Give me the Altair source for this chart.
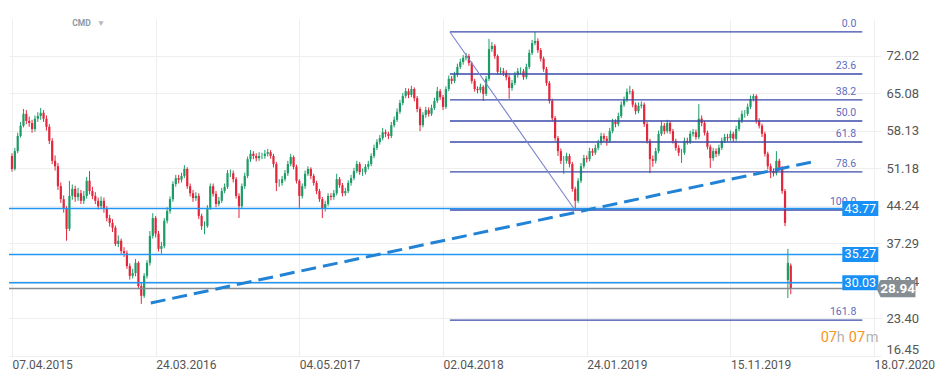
import altair as alt
import pandas as pd

# ---------------- data ----------------
date_labels = ["07.04.2015", "24.03.2016", "04.05.2017", "02.04.2018",
               "24.01.2019", "15.11.2019", "18.07.2020"]
date_ticks = [0, 50, 100, 150, 200, 250, 300]          # bar index of each date
price_ticks = [16.45, 23.40, 30.34, 37.29, 44.24, 51.18, 58.13, 65.08, 72.02]

first_open = 53.5
closes = [
    51.1, 54.4, 57.2, 59.1, 61.3, 60.0, 59.6, 58.5, 60.4, 60.9,
    61.5, 60.4, 58.9, 56.3, 52.6, 51.6, 47.9, 45.5, 43.7, 40.0,
    46.1, 47.4, 45.9, 46.6, 45.2, 46.1, 48.9, 47.0, 46.1, 45.2,
    44.2, 45.2, 43.7, 42.0, 41.1, 40.2, 37.2, 37.8, 35.9, 35.5,
    33.1, 31.3, 31.8, 33.7, 29.4, 27.6, 31.3, 33.7, 38.7, 42.0,
    39.1, 36.3, 36.8, 41.5, 43.3, 45.5, 48.3, 49.4, 49.1, 49.8,
    51.1, 47.9, 46.6, 45.7, 46.1, 42.4, 40.5, 40.5, 43.9, 47.9,
    46.5, 44.6, 45.2, 47.0, 47.8, 50.3, 50.3, 49.2, 46.1, 44.2,
    47.9, 49.8, 52.9, 53.9, 53.5, 53.1, 53.5, 53.5, 53.9, 54.2,
    53.5, 52.0, 48.5, 48.5, 49.2, 50.3, 52.0, 53.3, 51.5, 48.9,
    46.1, 47.9, 50.2, 51.1, 49.8, 48.5, 47.0, 45.5, 43.7, 44.6,
    46.1, 45.9, 46.6, 49.2, 48.1, 46.6, 47.0, 48.5, 49.4, 50.7,
    52.0, 50.5, 50.5, 51.5, 52.0, 53.5, 55.0, 56.1, 56.8, 57.9,
    57.6, 57.2, 59.2, 60.2, 61.7, 63.3, 64.6, 65.5, 64.8, 65.9,
    64.2, 62.2, 59.2, 61.1, 62.0, 61.3, 62.4, 63.7, 65.5, 64.4,
    62.6, 65.9, 67.8, 67.4, 68.5, 70.0, 70.9, 71.7, 72.0, 70.7,
    67.4, 65.9, 65.7, 66.3, 65.0, 67.8, 73.3, 73.9, 72.0, 69.1,
    69.2, 68.9, 68.1, 66.1, 67.0, 68.5, 69.2, 69.2, 68.1, 70.0,
    72.6, 74.4, 74.8, 73.1, 71.5, 69.6, 67.0, 63.7, 60.5, 56.8,
    54.4, 52.6, 52.6, 53.5, 52.0, 47.4, 45.2, 48.9, 51.6, 53.1,
    52.9, 54.4, 54.1, 55.0, 55.9, 57.2, 56.7, 56.3, 58.1, 59.8,
    59.4, 60.9, 63.0, 63.9, 65.4, 65.5, 63.0, 61.8, 62.8, 63.0,
    59.4, 56.3, 52.9, 52.6, 54.4, 57.6, 59.1, 58.1, 59.6, 58.1,
    56.3, 55.0, 54.1, 54.1, 56.3, 56.1, 57.6, 57.9, 57.0, 60.4,
    59.6, 57.8, 55.2, 53.1, 54.4, 53.9, 55.0, 56.3, 57.0, 56.8,
    57.6, 56.7, 58.5, 60.0, 61.3, 61.3, 62.6, 64.1, 64.6, 60.0,
    59.1, 57.6, 53.9, 51.6, 50.7, 50.3, 52.6, 51.3, 47.0, 41.1,
    33.7, 28.94,
]
highs = [
    54.0, 55.0, 57.8, 59.8, 62.2, 62.0, 60.8, 60.2, 61.0, 61.6,
    62.4, 62.0, 61.0, 59.4, 56.8, 53.6, 52.2, 48.6, 46.2, 44.2,
    48.9, 48.2, 48.0, 47.6, 47.2, 47.0, 49.6, 50.7, 47.8, 46.8,
    45.8, 46.0, 45.8, 44.2, 42.6, 41.8, 40.6, 38.8, 38.2, 36.6,
    36.0, 33.6, 32.6, 34.4, 34.0, 30.0, 31.8, 34.2, 39.6, 42.9,
    42.4, 39.6, 37.6, 42.0, 44.0, 46.0, 48.8, 50.0, 50.0, 50.4,
    51.8, 51.4, 48.4, 47.2, 46.8, 46.6, 42.8, 41.4, 44.4, 48.4,
    48.4, 47.0, 45.9, 47.6, 48.4, 50.9, 51.0, 50.8, 49.6, 46.6,
    48.4, 50.4, 53.4, 54.6, 54.4, 54.0, 54.2, 54.1, 54.6, 54.8,
    54.6, 53.9, 52.4, 49.2, 49.8, 50.9, 52.6, 53.9, 53.6, 51.9,
    49.2, 48.4, 50.8, 51.6, 51.4, 50.2, 48.9, 47.4, 45.9, 45.2,
    46.6, 46.6, 47.2, 50.2, 49.6, 48.5, 47.6, 49.0, 50.0, 51.3,
    52.6, 52.4, 51.2, 52.0, 52.6, 54.0, 55.6, 56.6, 57.4, 58.7,
    58.4, 58.0, 59.8, 60.8, 62.3, 63.9, 65.2, 66.1, 66.0, 66.5,
    66.2, 64.6, 62.6, 61.6, 62.6, 62.5, 63.0, 64.3, 66.3, 65.9,
    64.8, 66.4, 68.4, 68.3, 69.1, 70.6, 71.5, 72.2, 72.6, 72.4,
    71.0, 67.8, 66.4, 66.9, 66.6, 68.3, 75.2, 74.6, 74.2, 72.3,
    69.9, 69.8, 69.4, 68.5, 67.6, 69.1, 69.8, 69.9, 69.6, 70.6,
    73.2, 75.0, 76.5, 75.3, 73.5, 71.9, 70.0, 67.4, 64.1, 60.9,
    57.2, 54.9, 53.5, 54.1, 53.9, 52.4, 47.8, 49.4, 52.2, 53.7,
    53.6, 55.0, 54.9, 55.6, 56.5, 57.8, 57.7, 57.2, 58.7, 60.4,
    60.3, 61.5, 63.6, 64.5, 66.0, 66.5, 65.9, 63.4, 63.4, 63.6,
    63.4, 59.8, 56.7, 53.6, 55.0, 58.2, 60.0, 59.6, 60.2, 60.0,
    58.5, 56.7, 55.5, 54.8, 56.9, 56.9, 58.2, 58.5, 58.4, 63.1,
    61.0, 60.0, 58.2, 55.6, 55.0, 54.9, 55.6, 56.9, 57.6, 57.6,
    58.2, 58.0, 59.1, 60.6, 61.9, 62.0, 63.2, 64.7, 65.0, 64.9,
    60.5, 59.5, 58.0, 54.3, 52.1, 51.2, 54.4, 53.0, 51.6, 47.4,
    36.3, 33.6,
]
lows = [
    50.6, 50.8, 54.0, 56.9, 58.8, 59.4, 58.9, 57.8, 58.0, 59.8,
    60.2, 59.8, 58.2, 55.7, 52.0, 50.8, 47.2, 44.8, 43.0, 37.8,
    39.6, 45.4, 45.0, 45.2, 44.6, 44.6, 45.6, 46.4, 45.5, 44.6,
    43.6, 43.8, 43.0, 41.4, 40.4, 39.4, 36.8, 36.6, 35.2, 34.8,
    32.6, 30.6, 30.8, 31.2, 28.8, 26.1, 27.2, 30.8, 33.2, 38.2,
    38.4, 35.8, 35.4, 36.4, 41.0, 42.8, 45.0, 47.8, 48.4, 48.6,
    49.4, 47.4, 46.0, 45.0, 45.2, 41.8, 39.8, 39.0, 40.2, 43.5,
    46.0, 44.0, 44.2, 44.8, 46.6, 47.4, 49.6, 48.6, 45.6, 42.0,
    43.8, 47.4, 49.4, 52.4, 52.9, 52.5, 52.6, 52.9, 53.0, 53.4,
    53.0, 51.4, 47.0, 47.8, 48.0, 48.8, 49.8, 51.6, 51.0, 48.4,
    43.9, 45.6, 47.4, 49.8, 49.2, 48.0, 46.4, 45.0, 42.0, 43.2,
    44.2, 45.3, 45.4, 46.2, 47.6, 46.0, 46.1, 46.6, 48.0, 49.0,
    50.3, 50.0, 49.8, 50.1, 51.0, 51.6, 53.1, 54.6, 55.6, 56.4,
    57.0, 56.6, 56.8, 58.8, 59.8, 61.3, 62.9, 64.2, 64.2, 64.4,
    63.6, 61.6, 58.1, 58.8, 60.6, 60.8, 60.9, 62.0, 63.3, 63.9,
    62.0, 62.2, 65.5, 66.8, 67.0, 68.1, 69.6, 70.4, 71.2, 70.2,
    66.9, 65.4, 65.1, 65.2, 63.7, 64.6, 67.4, 72.8, 71.5, 68.6,
    68.6, 68.3, 67.5, 64.1, 65.6, 66.6, 68.0, 68.6, 67.6, 67.7,
    69.6, 72.2, 74.0, 72.6, 71.0, 69.1, 66.5, 63.2, 60.0, 56.3,
    53.5, 52.0, 50.2, 52.1, 51.4, 46.9, 43.5, 44.8, 48.5, 51.2,
    52.3, 52.5, 53.5, 53.7, 54.6, 55.5, 56.1, 55.4, 55.9, 57.7,
    58.8, 59.0, 60.5, 62.6, 63.5, 64.9, 62.5, 61.2, 61.4, 62.3,
    58.9, 55.8, 50.3, 51.5, 52.1, 54.0, 57.2, 57.5, 57.7, 57.6,
    55.8, 54.5, 53.5, 52.2, 53.7, 55.6, 55.7, 57.1, 56.5, 56.6,
    59.0, 57.3, 54.7, 51.3, 52.6, 53.3, 53.5, 54.6, 55.9, 56.2,
    56.3, 56.1, 56.3, 58.1, 59.6, 60.6, 60.9, 62.2, 63.6, 59.5,
    58.6, 57.0, 53.4, 51.0, 49.4, 49.7, 49.9, 50.8, 46.5, 40.5,
    27.2, 27.9,
]
gap_opens = {270: 30.5, 271: 33.2}      # opens after the price gap

fib_high, fib_low = 76.47, 43.49
fib_start, fib_low_bar, fib_end = 152.4, 195.9, 295.9
fib_ratios = [0.0, 23.6, 38.2, 50.0, 61.8, 78.6, 100.0, 161.8]

blue_levels = [43.77, 35.27, 30.03]
last_price = 28.94
trend_bars = [48.3, 278.3]
trend_prices = [26.27, 52.38]

x_domain = [-1.03, 302.4]
y_domain = [16.45, 78.87]

# ---------------- tables ----------------
assert len(closes) == len(highs) == len(lows)
opens = [first_open] + closes[:-1]
for k, v in gap_opens.items():
    opens[k] = v
candles = pd.DataFrame({
    "i": list(range(len(closes))), "open": opens, "close": closes,
    "high": highs, "low": lows,
})
candles["dir"] = ["up" if c >= o else "down" for o, c in zip(opens, closes)]

fib = pd.DataFrame({
    "ratio": fib_ratios,
    "price": [fib_high - r / 100.0 * (fib_high - fib_low) for r in fib_ratios],
    "x0": fib_start, "x1": fib_end, "xl": 293.8,
})
fib["label"] = [f"{r:.1f}" for r in fib_ratios]

blue = pd.DataFrame({"price": blue_levels, "x0": x_domain[0], "x1": 289.0, "xb": 295.2})
blue["label"] = [f"{p:.2f}" for p in blue_levels]
gray = pd.DataFrame({"price": [last_price], "x0": x_domain[0], "x1": 301.4,
                     "xb": 307.6, "xt": 308.2, "label": [f"{last_price:.2f}"]})
diag = pd.DataFrame({"x0": [fib_start], "y0": [fib_high], "x1": [fib_low_bar], "y1": [fib_low]})
trend = pd.DataFrame({"x0": [trend_bars[0]], "y0": [trend_prices[0]],
                      "x1": [trend_bars[1]], "y1": [trend_prices[1]]})

title_df = pd.DataFrame({"i": [24.2, 31.0], "p": [78.13, 78.2], "t": ["CMD", "\u25BC"]})
timer_df = pd.DataFrame({"i": [281.4, 287.0, 291.2, 297.1], "p": [19.84] * 4,
                         "t": ["07", "h", "07", "m"], "c": ["o", "g", "o", "g"]})

# ---------------- encodings ----------------
FONT = "Roboto"
label_expr = " : ".join(f"datum.value == {t} ? '{d}'" for t, d in zip(date_ticks, date_labels)) + " : ''"

xs = alt.Scale(domain=x_domain, nice=False, zero=False)
ys = alt.Scale(domain=y_domain, nice=False, zero=False)

x_axis = alt.Axis(values=date_ticks, labelExpr=label_expr, title=None, grid=True,
                  gridColor="#eeeeee", domain=False, ticks=False, tickSize=0,
                  labelAlign="left", labelBaseline="top", labelPadding=3, labelFlush=False,
                  labelOverlap=False, labelFontSize=12, labelColor="#555555", labelFont=FONT,
                  zindex=0)
y_axis = alt.Axis(values=price_ticks, format=".2f", title=None, orient="right", grid=True,
                  gridColor="#eeeeee", domain=False, ticks=False, tickSize=0,
                  labelPadding=5, labelFlush=True, labelOverlap=False, labelFontSize=13,
                  labelColor="#555555", labelFont=FONT, labelAlign="left", zindex=0)


def X(f):
    return alt.X(f, type="quantitative", scale=xs, axis=x_axis)


def Y(f):
    return alt.Y(f, type="quantitative", scale=ys, axis=y_axis)


color = alt.Color("dir:N", scale=alt.Scale(domain=["up", "down"], range=["#1c9c66", "#e3263b"]),
                  legend=None)

wicks = alt.Chart(candles).mark_rule(strokeWidth=1).encode(
    x=X("i"), y=Y("low"), y2="high:Q", color=color)
bodies = alt.Chart(candles).mark_rule(strokeWidth=2.2).encode(
    x=X("i"), y=Y("open"), y2="close:Q", color=color)

fib_lines = alt.Chart(fib).mark_rule(color="#3a4aa8", strokeWidth=1.3).encode(
    x=X("x0"), x2="x1:Q", y=Y("price"))
fib_diag = alt.Chart(diag).mark_rule(color="#7c85cc", strokeWidth=1.1).encode(
    x=X("x0"), x2="x1:Q", y=Y("y0"), y2="y1:Q")
fib_text = alt.Chart(fib).mark_text(align="right", baseline="middle", dy=-8, fontSize=10.5,
                                    font=FONT, color="#5c6bc0").encode(
    x=X("xl"), y=Y("price"), text="label:N")

blue_lines = alt.Chart(blue).mark_rule(color="#2196f3", strokeWidth=1.5).encode(
    x=X("x0"), x2="x1:Q", y=Y("price"))
gray_line = alt.Chart(gray).mark_rule(color="#858d92", strokeWidth=1.5).encode(
    x=X("x0"), x2="x1:Q", y=Y("price"))
trend_line = alt.Chart(trend).mark_rule(color="#2283d6", strokeWidth=3,
                                        strokeDash=[15, 7]).encode(
    x=X("x0"), x2="x1:Q", y=Y("y0"), y2="y1:Q")

blue_box = alt.Chart(blue).mark_point(
    shape="M-1,-0.4167L1,-0.4167L1,0.4167L-1,0.4167Z", size=1296, filled=True,
    fill="#1890f5", opacity=1, strokeWidth=0).encode(x=X("xb"), y=Y("price"))
blue_box_text = alt.Chart(blue).mark_text(color="white", fontSize=12.5, font=FONT,
                                          align="center", baseline="middle").encode(
    x=X("xb"), y=Y("price"), text="label:N")
gray_box = alt.Chart(gray).mark_point(
    shape="M-0.79,-0.44L1,-0.44L1,0.44L-0.79,0.44L-1,0Z", size=1521, filled=True,
    fill="#868e93", opacity=1, strokeWidth=0).encode(x=X("xb"), y=Y("price"))
gray_box_text = alt.Chart(gray).mark_text(color="white", fontSize=13.5, fontWeight="bold",
                                          font=FONT, align="center", baseline="middle").encode(
    x=X("xt"), y=Y("price"), text="label:N")

title_text = alt.Chart(title_df).mark_text(fontSize=8.5, fontWeight="bold", font=FONT,
                                           baseline="middle").encode(
    x=X("i"), y=Y("p"), text="t:N",
    color=alt.Color("t:N", scale=alt.Scale(domain=["CMD", "\u25BC"], range=["#8b98a5", "#b8b8b8"]),
                    legend=None))
timer_text = alt.Chart(timer_df).mark_text(fontSize=14.5, font=FONT, align="left",
                                           baseline="middle").encode(
    x=X("i"), y=Y("p"), text="t:N",
    color=alt.Color("c:N", scale=alt.Scale(domain=["o", "g"], range=["#f7941d", "#b3b3b3"]),
                    legend=None))

chart = alt.layer(
    wicks, bodies, fib_lines, fib_diag, blue_lines, gray_line, trend_line,
    fib_text, blue_box, blue_box_text, gray_box, gray_box_text, title_text, timer_text,
).resolve_scale(color="independent").properties(
    width=872, height=337,
    padding={"left": 0, "top": 10, "right": 0, "bottom": 0},
    autosize=alt.AutoSizeParams(type="pad"),
    background="white",
).configure_view(stroke=None)

chart.save("out.html", embed_options={"renderer": "svg", "actions": False})
